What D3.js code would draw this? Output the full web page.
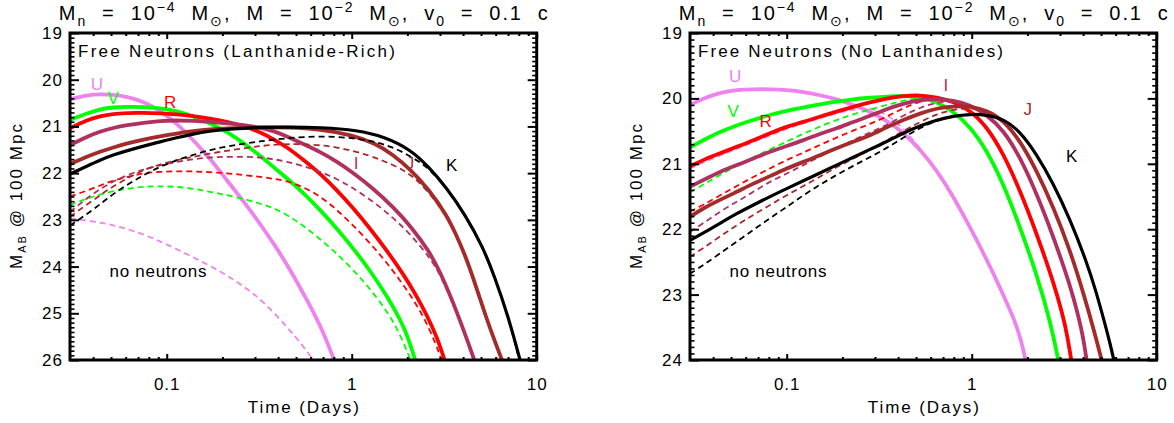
<!DOCTYPE html>
<html><head><meta charset="utf-8">
<script src="https://cdn.jsdelivr.net/npm/d3@7"></script>
<style>
html,body{margin:0;padding:0;background:#fff;}
svg{display:block;}
</style></head><body>
<svg id="c" width="1174" height="423"></svg>
<script>
// ---------------- DATA ----------------
const bands = ["U","V","R","I","J","K"];
const xTickValues = [0.1, 1, 10];
const xTickLabels = ["0.1","1","10"];
const xMinorTicks = [0.04,0.05,0.06,0.07,0.08,0.09,0.2,0.3,0.4,0.5,0.6,0.7,0.8,0.9,2,3,4,5,6,7,8,9];
const yTicksLeft = [19,20,21,22,23,24,25,26];
const yTicksRight = [19,20,21,22,23,24];
const panelNotes = ["Free Neutrons (Lanthanide-Rich)", "Free Neutrons (No Lanthanides)"];
const noNeutronNote = "no neutrons";
const xAxisTitle = "Time (Days)";

// Left panel, with free neutrons (solid), [time (days), M_AB]
const leftU = [[0.030,20.42],[0.037,20.33],[0.0435,20.31],[0.051,20.32],[0.061,20.36],[0.075,20.47],[0.092,20.66],[0.113,20.93],[0.139,21.29],[0.171,21.68],[0.211,22.15],[0.26,22.6],[0.319,23.08],[0.39,23.58],[0.47,24.1],[0.58,24.75],[0.70,25.38],[0.81,26.04]];
const leftV = [[0.030,20.86],[0.037,20.72],[0.0436,20.63],[0.0514,20.59],[0.061,20.58],[0.075,20.58],[0.092,20.61],[0.113,20.67],[0.139,20.78],[0.171,20.93],[0.214,21.12],[0.26,21.36],[0.32,21.62],[0.38,21.88],[0.45,22.12],[0.55,22.43],[0.68,22.8],[0.83,23.18],[1.02,23.61],[1.28,24.13],[1.55,24.63],[1.83,25.13],[2.02,25.52],[2.22,26.04]];
const leftR = [[0.030,21.04],[0.037,20.86],[0.0436,20.78],[0.0514,20.73],[0.061,20.71],[0.075,20.71],[0.092,20.72],[0.113,20.74],[0.139,20.78],[0.171,20.83],[0.211,20.9],[0.26,20.99],[0.32,21.12],[0.38,21.28],[0.45,21.45],[0.55,21.72],[0.68,22.02],[0.83,22.36],[1.02,22.75],[1.26,23.19],[1.55,23.66],[1.87,24.12],[2.2,24.57],[2.55,25.04],[2.9,25.52],[3.2,26.04]];
const leftI = [[0.030,21.4],[0.037,21.22],[0.0436,21.11],[0.0514,21.03],[0.061,20.97],[0.075,20.92],[0.092,20.88],[0.113,20.87],[0.139,20.88],[0.171,20.9],[0.211,20.93],[0.26,20.97],[0.32,21.02],[0.38,21.1],[0.45,21.22],[0.55,21.38],[0.68,21.55],[0.83,21.75],[1.0,21.97],[1.3,22.32],[1.67,22.72],[2.09,23.14],[2.61,23.66],[3.0,24.1],[3.74,25.0],[4.64,26.04]];
const leftJ = [[0.030,21.8],[0.037,21.65],[0.0436,21.54],[0.0514,21.45],[0.061,21.36],[0.075,21.28],[0.092,21.21],[0.113,21.15],[0.139,21.1],[0.171,21.06],[0.211,21.04],[0.26,21.03],[0.32,21.02],[0.45,21.02],[0.68,21.06],[1.0,21.18],[1.34,21.36],[1.67,21.6],[2.09,21.93],[2.61,22.35],[3.27,22.9],[3.7,23.35],[4.09,23.75],[4.5,24.2],[5.34,25.1],[6.0,25.65],[6.55,26.04]];
const leftK = [[0.030,22.02],[0.037,21.85],[0.0436,21.72],[0.0514,21.61],[0.061,21.52],[0.075,21.42],[0.092,21.33],[0.113,21.24],[0.139,21.16],[0.171,21.1],[0.211,21.06],[0.26,21.04],[0.32,21.02],[0.45,21.01],[0.68,21.02],[1.07,21.08],[1.5,21.22],[2.09,21.5],[2.61,21.87],[3.27,22.32],[4.09,22.88],[5.12,23.58],[5.9,24.2],[7.0,25.05],[8.18,26.04]];
// Left panel, no neutrons (dashed)
const leftUnn = [[0.030,22.97],[0.04,23.03],[0.05,23.1],[0.065,23.22],[0.092,23.45],[0.139,23.8],[0.2,24.12],[0.26,24.42],[0.33,24.73],[0.45,25.3],[0.55,25.72],[0.63,26.04]];
const leftVnn = [[0.030,22.68],[0.037,22.54],[0.049,22.40],[0.061,22.33],[0.075,22.29],[0.092,22.28],[0.113,22.29],[0.139,22.33],[0.171,22.40],[0.211,22.47],[0.26,22.55],[0.32,22.65],[0.38,22.75],[0.45,22.9],[0.55,23.13],[0.67,23.4],[0.83,23.72],[1.05,24.12],[1.3,24.55],[1.6,25.03],[1.85,25.5],[2.1,26.04]];
const leftRnn = [[0.030,22.5],[0.040,22.33],[0.049,22.18],[0.061,22.08],[0.075,22.0],[0.092,21.97],[0.113,21.96],[0.139,21.96],[0.171,21.98],[0.211,22.0],[0.26,22.04],[0.32,22.08],[0.38,22.12],[0.45,22.17],[0.55,22.3],[0.68,22.5],[0.83,22.78],[1.02,23.12],[1.26,23.5],[1.55,23.92],[1.83,24.3],[2.2,24.76],[2.5,25.15],[2.85,25.65],[3.08,26.04]];
const leftInn = [[0.030,22.83],[0.040,22.43],[0.049,22.22],[0.061,22.04],[0.075,21.92],[0.092,21.83],[0.113,21.76],[0.139,21.7],[0.171,21.66],[0.211,21.65],[0.26,21.65],[0.32,21.66],[0.38,21.7],[0.45,21.76],[0.55,21.85],[0.68,21.97],[0.83,22.12],[1.0,22.3],[1.3,22.6],[1.67,22.95],[2.09,23.32],[2.61,23.78],[3.0,24.15],[3.74,25.02],[4.6,26.04]];
const leftJnn = [[0.030,22.93],[0.040,22.58],[0.049,22.33],[0.061,22.11],[0.075,21.93],[0.092,21.81],[0.113,21.72],[0.139,21.65],[0.171,21.58],[0.211,21.52],[0.26,21.47],[0.32,21.42],[0.38,21.39],[0.55,21.37],[0.83,21.43],[1.26,21.62],[1.67,21.82],[2.09,22.02],[2.61,22.4],[3.27,22.93],[3.7,23.37],[4.09,23.77],[4.5,24.22],[5.34,25.1],[6.0,25.65],[6.5,26.04]];
const leftKnn = [[0.030,23.12],[0.040,22.79],[0.049,22.5],[0.061,22.25],[0.075,22.04],[0.092,21.86],[0.113,21.72],[0.139,21.61],[0.171,21.5],[0.211,21.43],[0.26,21.37],[0.32,21.32],[0.38,21.28],[0.55,21.22],[0.83,21.21],[1.26,21.3],[1.55,21.4],[1.9,21.55],[2.3,21.75],[2.61,21.9],[3.27,22.33],[4.09,22.88],[5.12,23.58],[5.9,24.2],[7.0,25.05],[8.1,26.04]];

// Right panel, with free neutrons (solid)
const rightU = [[0.030,20.10],[0.0354,20.0],[0.0436,19.91],[0.0537,19.87],[0.066,19.86],[0.0813,19.86],[0.1,19.87],[0.123,19.9],[0.151,19.95],[0.186,20.01],[0.229,20.1],[0.282,20.2],[0.347,20.34],[0.427,20.52],[0.525,20.78],[0.647,21.1],[0.795,21.5],[0.97,21.95],[1.2,22.45],[1.48,23.0],[1.71,23.4],[1.85,23.7],[1.97,24.04]];
const rightV = [[0.030,20.75],[0.0354,20.64],[0.0436,20.51],[0.0537,20.41],[0.066,20.33],[0.0813,20.25],[0.1,20.19],[0.123,20.14],[0.151,20.09],[0.186,20.05],[0.229,20.01],[0.282,19.99],[0.347,19.97],[0.427,19.96],[0.525,19.97],[0.647,20.05],[0.795,20.2],[0.979,20.43],[1.205,20.79],[1.48,21.3],[1.82,21.96],[2.24,22.68],[2.65,23.39],[2.96,24.04]];
const rightR = [[0.030,21.04],[0.0354,20.94],[0.0436,20.84],[0.0537,20.74],[0.066,20.64],[0.0813,20.53],[0.1,20.43],[0.123,20.36],[0.151,20.28],[0.186,20.2],[0.229,20.13],[0.282,20.06],[0.347,20.0],[0.427,19.96],[0.525,19.95],[0.647,19.98],[0.795,20.05],[0.979,20.18],[1.205,20.43],[1.48,20.84],[1.82,21.4],[2.24,22.06],[2.76,22.8],[3.1,23.3],[3.3,23.65],[3.47,24.04]];
const rightI = [[0.030,21.35],[0.0354,21.25],[0.0436,21.12],[0.0537,21.02],[0.066,20.92],[0.0813,20.81],[0.1,20.73],[0.123,20.64],[0.151,20.54],[0.186,20.46],[0.229,20.36],[0.282,20.27],[0.347,20.16],[0.427,20.08],[0.525,20.02],[0.647,20.01],[0.795,20.03],[0.979,20.1],[1.205,20.25],[1.48,20.48],[1.82,20.89],[2.24,21.45],[2.76,22.11],[3.4,22.85],[3.75,23.3],[4.0,23.64],[4.2,24.04]];
const rightJ = [[0.030,21.81],[0.0354,21.68],[0.0436,21.55],[0.0537,21.43],[0.066,21.3],[0.0813,21.19],[0.1,21.07],[0.123,20.97],[0.151,20.87],[0.186,20.76],[0.229,20.66],[0.282,20.57],[0.347,20.44],[0.427,20.33],[0.525,20.23],[0.647,20.15],[0.795,20.12],[0.979,20.12],[1.205,20.18],[1.48,20.33],[1.82,20.64],[2.24,21.1],[2.76,21.66],[3.4,22.32],[4.02,22.98],[4.64,23.6],[5.08,24.04]];
const rightK = [[0.030,22.17],[0.0354,22.06],[0.0436,21.91],[0.0537,21.76],[0.066,21.63],[0.0813,21.5],[0.1,21.38],[0.123,21.26],[0.151,21.14],[0.186,21.02],[0.229,20.9],[0.282,20.78],[0.347,20.66],[0.427,20.53],[0.525,20.42],[0.647,20.33],[0.795,20.27],[0.979,20.24],[1.205,20.25],[1.48,20.31],[1.82,20.5],[2.24,20.85],[2.76,21.3],[3.4,21.85],[4.18,22.5],[4.64,22.9],[5.2,23.4],[5.6,23.75],[5.91,24.04]];
// Right panel, no neutrons (dashed)
const rightUnn = [[0.030,21.07],[0.0436,20.87],[0.066,20.67],[0.1,20.46],[0.151,20.3],[0.2,20.2],[0.25,20.15],[0.3,20.16],[0.36,20.27],[0.43,20.47],[0.525,20.76],[0.647,21.1],[0.795,21.5],[0.97,21.95],[1.2,22.45],[1.48,23.0],[1.71,23.4],[1.85,23.7],[1.96,24.04]];
const rightVnn = [[0.030,21.43],[0.0354,21.32],[0.0436,21.17],[0.0537,21.03],[0.066,20.9],[0.0813,20.78],[0.1,20.66],[0.123,20.54],[0.151,20.43],[0.186,20.33],[0.229,20.24],[0.282,20.17],[0.347,20.1],[0.427,20.03],[0.525,19.99],[0.647,20.05],[0.795,20.2],[0.979,20.43],[1.205,20.79],[1.48,21.3],[1.82,21.96],[2.24,22.68],[2.65,23.39],[2.96,24.04]];
const rightRnn = [[0.030,21.73],[0.0354,21.63],[0.0436,21.48],[0.0537,21.34],[0.066,21.2],[0.0813,21.07],[0.1,20.94],[0.123,20.83],[0.151,20.71],[0.186,20.6],[0.229,20.49],[0.282,20.39],[0.347,20.28],[0.427,20.15],[0.525,20.04],[0.647,20.0],[0.795,20.05],[0.979,20.18],[1.205,20.43],[1.48,20.84],[1.82,21.4],[2.24,22.06],[2.76,22.8],[3.1,23.3],[3.3,23.65],[3.47,24.04]];
const rightInn = [[0.030,22.04],[0.0354,21.91],[0.0436,21.73],[0.0537,21.58],[0.066,21.43],[0.0813,21.27],[0.1,21.15],[0.123,21.02],[0.151,20.89],[0.186,20.76],[0.229,20.64],[0.282,20.52],[0.347,20.41],[0.427,20.26],[0.525,20.14],[0.647,20.06],[0.795,20.04],[0.979,20.1],[1.205,20.25],[1.48,20.48],[1.82,20.89],[2.24,21.45],[2.76,22.11],[3.4,22.85],[3.75,23.3],[4.0,23.64],[4.2,24.04]];
const rightJnn = [[0.030,22.42],[0.0354,22.29],[0.0436,22.11],[0.0537,21.94],[0.066,21.78],[0.0813,21.63],[0.1,21.48],[0.123,21.34],[0.151,21.2],[0.186,21.05],[0.229,20.92],[0.282,20.79],[0.347,20.64],[0.427,20.5],[0.525,20.36],[0.647,20.24],[0.795,20.17],[0.979,20.14],[1.205,20.18],[1.48,20.33],[1.82,20.64],[2.24,21.1],[2.76,21.66],[3.4,22.32],[4.02,22.98],[4.64,23.6],[5.08,24.04]];
const rightKnn = [[0.030,22.68],[0.0354,22.55],[0.0436,22.37],[0.0537,22.19],[0.066,22.01],[0.0813,21.83],[0.1,21.66],[0.123,21.48],[0.151,21.32],[0.186,21.17],[0.229,21.03],[0.282,20.9],[0.347,20.76],[0.427,20.6],[0.525,20.45],[0.647,20.34],[0.795,20.27],[0.979,20.24],[1.205,20.25],[1.48,20.31],[1.82,20.5],[2.24,20.85],[2.76,21.3],[3.4,21.85],[4.18,22.5],[4.64,22.9],[5.2,23.4],[5.6,23.75],[5.91,24.04]];

// band label anchor points [time, mag]
const leftLabelAt = [[0.0419,20.11],[0.0514,20.40],[0.1042,20.49],[1.055,21.79],[2.065,21.79],[3.47,21.83]];
const rightLabelAt = [[0.0527,19.67],[0.0514,20.20],[0.077,20.36],[0.726,19.81],[2.007,20.17],[3.47,20.89]];

// ---------------- STYLE / LAYOUT ----------------
const colors = {U:"#EE82EE", V:"#00FF00", R:"#FF0000", I:"#B03060", J:"#A52A2A", K:"#000000"};
const FONT = '"Liberation Sans", Arial, Helvetica, sans-serif';
const TOP = 33, BOT = 360;
const panels = [
  {x0:70, x1:536.7, yDomain:[19,26], yTicks:yTicksLeft,
   solid:[leftU,leftV,leftR,leftI,leftJ,leftK], dashed:[leftUnn,leftVnn,leftRnn,leftInn,leftJnn,leftKnn],
   note:panelNotes[0], noteLen:317, labels:leftLabelAt},
  {x0:690, x1:1156.7, yDomain:[19,24], yTicks:yTicksRight,
   solid:[rightU,rightV,rightR,rightI,rightJ,rightK], dashed:[rightUnn,rightVnn,rightRnn,rightInn,rightJnn,rightKnn],
   note:panelNotes[1], noteLen:305, labels:rightLabelAt}
];

const svg = d3.select("#c").attr("font-family", FONT);

function styleAxis(sel, w){
  sel.attr("font-family", null).attr("font-size", null);
  sel.select(".domain").remove();
  sel.selectAll(".tick line").attr("stroke","#000").attr("stroke-width", w);
  sel.selectAll(".tick text").attr("fill","#000").attr("font-size",17).attr("font-family",FONT).attr("letter-spacing","1px");
}

panels.forEach((p, pi) => {
  const g = svg.append("g");
  const x = d3.scaleLog().domain([0.03,10]).range([p.x0,p.x1]);
  const y = d3.scaleLinear().domain(p.yDomain).range([TOP,BOT]);
  const cid = "clip"+pi;
  svg.append("defs").append("clipPath").attr("id",cid).append("rect")
    .attr("x",p.x0).attr("y",TOP).attr("width",p.x1-p.x0).attr("height",BOT-TOP);
  const line = d3.line().x(d=>x(d[0])).y(d=>y(d[1])).curve(d3.curveBasis);
  const cg = g.append("g").attr("clip-path",`url(#${cid})`);
  bands.forEach((b,i)=>{
    cg.append("path").attr("d",line(p.solid[i])).attr("fill","none")
      .attr("stroke",colors[b]).attr("stroke-width", b==="K"?3.2:3.8).attr("stroke-linejoin","round");
    cg.append("path").attr("d",line(p.dashed[i])).attr("fill","none")
      .attr("stroke",colors[b]).attr("stroke-width",1.8).attr("stroke-dasharray","6,4");
  });

  // axes
  const minorY = d3.range(p.yDomain[0]*10, p.yDomain[1]*10+1).map(v=>v/10).filter(v=>Math.abs(v-Math.round(v))>1e-6);
  g.append("g").attr("transform",`translate(0,${BOT})`)
    .call(d3.axisBottom(x).tickValues(xTickValues).tickFormat((d,i)=>xTickLabels[i]).tickSizeInner(-6).tickSizeOuter(0).tickPadding(18))
    .call(s=>styleAxis(s,2));
  g.append("g").attr("transform",`translate(0,${BOT})`)
    .call(d3.axisBottom(x).tickValues(xMinorTicks).tickFormat(()=>"").tickSizeInner(-3).tickSizeOuter(0))
    .call(s=>styleAxis(s,2));
  g.append("g").attr("transform",`translate(0,${TOP})`)
    .call(d3.axisTop(x).tickValues(xTickValues).tickFormat(()=>"").tickSizeInner(-6).tickSizeOuter(0))
    .call(s=>styleAxis(s,2));
  g.append("g").attr("transform",`translate(0,${TOP})`)
    .call(d3.axisTop(x).tickValues(xMinorTicks).tickFormat(()=>"").tickSizeInner(-3).tickSizeOuter(0))
    .call(s=>styleAxis(s,2));
  g.append("g").attr("transform",`translate(${p.x0},0)`)
    .call(d3.axisLeft(y).tickValues(p.yTicks).tickFormat(d3.format("d")).tickSizeInner(-9).tickSizeOuter(0).tickPadding(7))
    .call(s=>styleAxis(s,2));
  g.append("g").attr("transform",`translate(${p.x0},0)`)
    .call(d3.axisLeft(y).tickValues(minorY).tickFormat(()=>"").tickSizeInner(-4.5).tickSizeOuter(0))
    .call(s=>styleAxis(s,1.6));
  g.append("g").attr("transform",`translate(${p.x1},0)`)
    .call(d3.axisRight(y).tickValues(p.yTicks).tickFormat(()=>"").tickSizeInner(-9).tickSizeOuter(0))
    .call(s=>styleAxis(s,2));
  g.append("g").attr("transform",`translate(${p.x1},0)`)
    .call(d3.axisRight(y).tickValues(minorY).tickFormat(()=>"").tickSizeInner(-4.5).tickSizeOuter(0))
    .call(s=>styleAxis(s,1.6));

  // box
  g.append("rect").attr("x",p.x0).attr("y",TOP).attr("width",p.x1-p.x0).attr("height",BOT-TOP)
    .attr("fill","none").attr("stroke","#000").attr("stroke-width",3);

  const cx = (p.x0+p.x1)/2;
  // title
  const t = g.append("text").attr("x",cx).attr("y",20).attr("text-anchor","middle")
    .attr("font-size",20).attr("fill","#000").style("white-space","pre").attr("textLength",489).attr("lengthAdjust","spacing");
  const parts = [["M",0],["n",1],["  =  10",0],["\u22124",2],["  M",0],["\u2299",1],[",  M  =  10",0],["\u22122",2],["  M",0],["\u2299",1],[",  v",0],["0",1],["  =  0.1  c",0]];
  let off = 0;
  parts.forEach(([s,k])=>{
    const target = k===1?6:(k===2?-8:0);
    t.append("tspan").attr("dy",target-off).attr("font-size",k?14:20).text(s);
    off = target;
  });

  // x axis title
  g.append("text").attr("x",cx).attr("y",413).attr("text-anchor","middle").attr("font-size",17)
    .attr("textLength",111).attr("lengthAdjust","spacing").text(xAxisTitle);
  // y axis title
  const yl = g.append("text").attr("transform",`translate(${p.x0-48},${(TOP+BOT)/2}) rotate(-90)`)
    .attr("text-anchor","middle").attr("font-size",17).attr("textLength",145).attr("lengthAdjust","spacing");
  yl.append("tspan").text("M");
  yl.append("tspan").attr("font-size",11).attr("dy",4).text("AB");
  yl.append("tspan").attr("dy",-4).text(" @ 100 Mpc");

  // notes
  g.append("text").attr("x",p.x0+8).attr("y",57).attr("font-size",17)
    .attr("textLength",p.noteLen).attr("lengthAdjust","spacing").text(p.note);
  g.append("text").attr("x",p.x0+39.5).attr("y",276.5).attr("font-size",17)
    .attr("textLength",97).attr("lengthAdjust","spacing").text(noNeutronNote);

  // band labels
  bands.forEach((b,i)=>{
    g.append("text").attr("x",x(p.labels[i][0])).attr("y",y(p.labels[i][1])).attr("text-anchor","middle")
      .attr("dominant-baseline","central").attr("font-size",17).attr("fill",colors[b]).text(b);
  });
});
</script>
</body></html>
